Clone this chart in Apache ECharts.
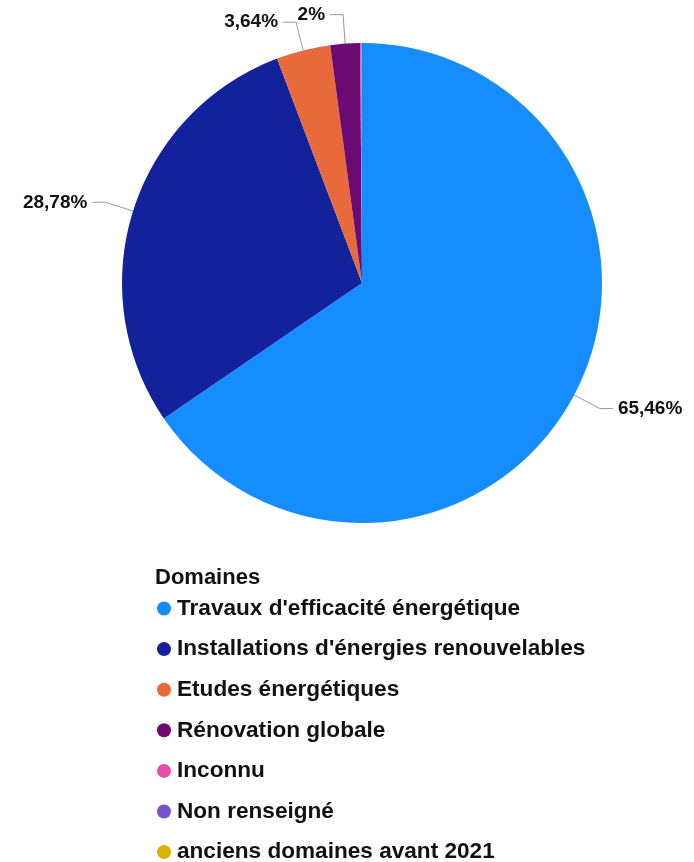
<!DOCTYPE html>
<html><head><meta charset="utf-8">
<script src="https://cdn.jsdelivr.net/npm/echarts@6/dist/echarts.min.js"></script>
<style>html,body{margin:0;padding:0;background:#fff}#c{width:694px;height:862px}</style>
</head><body><div id="c"></div>
<script>
var categories = ["Travaux d'efficacité énergétique", "Installations d'énergies renouvelables", "Etudes énergétiques", "Rénovation globale", "Inconnu", "Non renseigné", "anciens domaines avant 2021"];
var values = [65.46, 28.78, 3.64, 2, 0.1, 0.01, 0.01];
var colors = ['#168dff', '#13229a', '#e8693a', '#6c0a74', '#e64ea8', '#7a4fd0', '#d8b200'];
var legendTitle = 'Domaines';

var FONT = '"Liberation Sans", Arial, sans-serif';
var data = categories.map(function (name, i) {
  var show = values[i] >= 1;
  return {
    name: name, value: values[i],
    itemStyle: { color: colors[i] },
    label: { show: show },
    labelLine: { show: show }
  };
});
var chart = echarts.init(document.getElementById('c'));
chart.setOption({
  animation: false,
  title: {
    text: legendTitle, left: 155, top: 567,
    padding: [0, 0, 0, 0],
    textStyle: { fontFamily: FONT, fontWeight: 'bold', fontSize: 22, color: '#111' }
  },
  legend: {
    orient: 'vertical', left: 157, top: 597, height: 400,
    padding: 0,
    icon: 'circle', itemWidth: 14, itemHeight: 14, itemGap: 17.6,
    textStyle: { fontFamily: FONT, fontWeight: 'bold', fontSize: 22.6, color: '#111', padding: [0, 0, 0, 1] },
    data: categories
  },
  series: [{
    type: 'pie',
    center: [362, 283], radius: 240,
    startAngle: 90, clockwise: true,
    avoidLabelOverlap: false,
    minShowLabelAngle: 0,
    label: {
      fontFamily: FONT, fontWeight: 'bold', fontSize: 19, color: '#111',
      formatter: function (p) { return String(p.value).replace('.', ',') + '%'; }
    },
    labelLine: { length: 29, length2: 13, lineStyle: { color: '#999', width: 1 } },
    emphasis: { disabled: true },
    data: data
  }]
});
</script></body></html>
